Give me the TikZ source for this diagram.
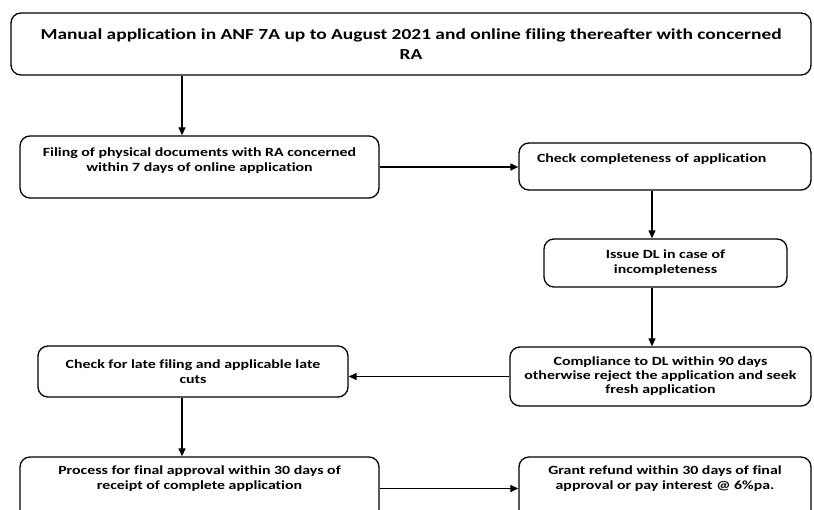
\documentclass[tikz,border=0pt]{standalone}
\usepackage{fontspec}
\setmainfont{Carlito}[FakeStretch=1.27, Ligatures=NoCommon]
\usetikzlibrary{arrows.meta}

\tikzset{
	procbox/.style={draw, line width=1.3pt, rounded corners=10pt, align=center,
		inner sep=0pt, font=\bfseries\fontsize{12.5}{15}\selectfont},
	flowarrow/.style={line width=1.2pt, -{Triangle[length=8pt,width=7pt]}}
}

\begin{document}
\begin{tikzpicture}[x=1pt,y=-1pt]
	
	\useasboundingbox (0,0) rectangle (814,510);
	\clip (0,0) rectangle (814,510);
	
	% columns of the vertical arrows
	\coordinate (colA) at (182,0);
	\coordinate (colB) at (652,0);
	
	\node[procbox, minimum width=800pt, minimum height=62pt,
		font=\bfseries\fontsize{15.3}{20}\selectfont] (apply) at (411,44)
		{Manual application in ANF 7A up to August 2021 and online filing thereafter with concerned\\RA};
	
	\node[procbox, minimum width=359pt, minimum height=62pt, text depth=15pt] (filing) at (199.5,167)
		{Filing of physical documents with RA concerned\\within 7 days of online application};
	\node[procbox, minimum width=292pt, minimum height=47pt, align=left, text width=256pt,
		text depth=16pt] (check) at (665,166.5)
		{Check completeness of application};
	\node[procbox, minimum width=243pt, minimum height=48pt] (issue) at (665.5,263)
		{Issue DL in case of\\incompleteness};
	\node[procbox, minimum width=301pt, minimum height=59pt, font=\bfseries\fontsize{12.5}{14}\selectfont] (comply) at (660.5,376.5)
		{Compliance to DL within 90 days\\otherwise reject the application and seek\\fresh application};
	\node[procbox, minimum width=310pt, minimum height=51pt] (late) at (193,371.5)
		{Check for late filing and applicable late\\cuts};
	\node[procbox, minimum width=359pt, minimum height=63pt, text depth=21pt] (final) at (199.5,488.5)
		{Process for final approval within 30 days of\\receipt of complete application};
	\node[procbox, minimum width=292pt, minimum height=63pt, text depth=21pt] (refund) at (665,488.5)
		{Grant refund within 30 days of final\\approval or pay interest @ 6\%pa.};
	
	% connectors
	\draw[flowarrow] (apply.south -| colA) -- (filing.north -| colA);
	\draw[flowarrow] (filing.east) -- (filing.east -| check.west);
	\draw[flowarrow] (check.south -| colB) -- (issue.north -| colB);
	\draw[flowarrow] (issue.south -| colB) -- (comply.north -| colB);
	\draw[flowarrow] (comply.west) -- (comply.west -| late.east);
	\draw[flowarrow] (late.south -| colA) -- (final.north -| colA);
	\draw[flowarrow] (final.east) -- (final.east -| refund.west);
	
\end{tikzpicture}
\end{document}
